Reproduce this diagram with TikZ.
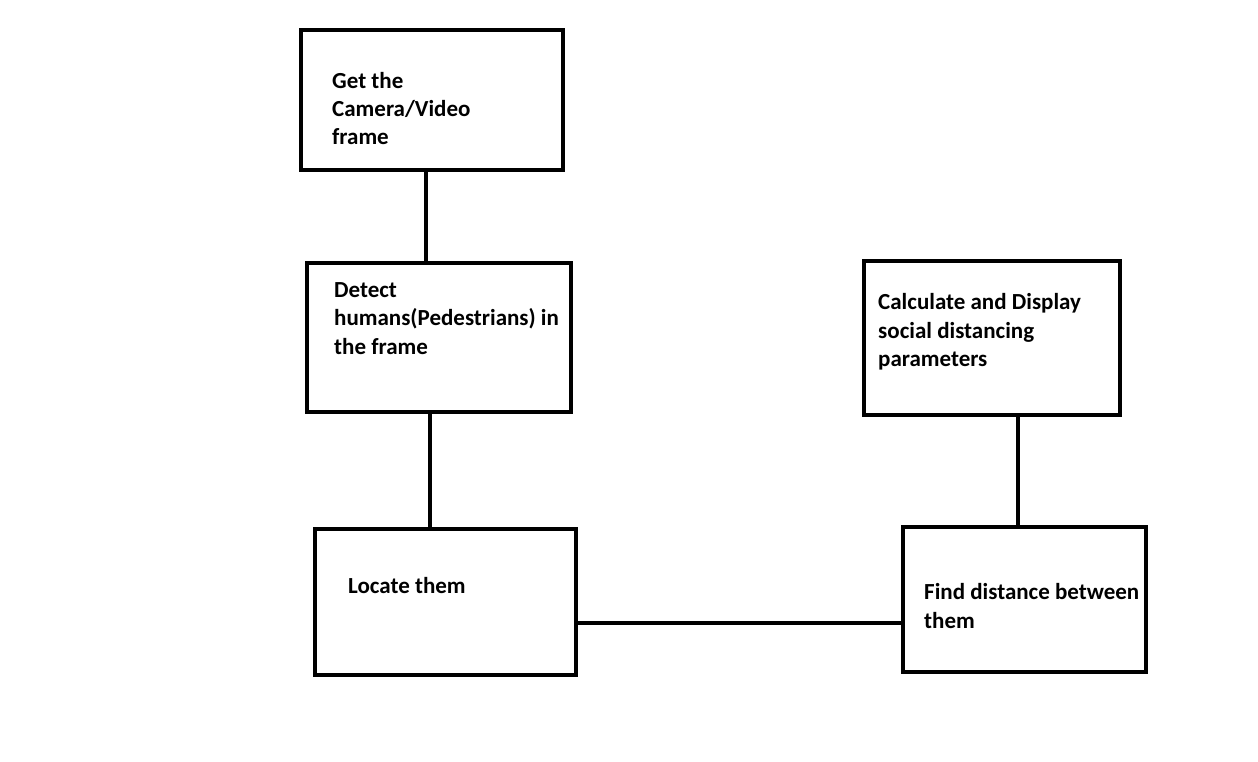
\documentclass[tikz,border=0pt]{standalone}
\usepackage{fontspec}
\setmainfont{Carlito}
\begin{document}
\begin{tikzpicture}[x=1pt,y=-1pt,
  box/.style={draw=black,line width=4pt,rectangle,inner sep=0pt},
  lbl/.style={anchor=base west,inner sep=0pt,align=left,font=\fontsize{23}{28.4}\selectfont\bfseries},
  link/.style={draw=black,line width=4pt}]
\useasboundingbox[fill=white] (0,0) rectangle (1258,762);
\node[box,minimum width=262pt,minimum height=140pt] (b1) at (432,100) {};
\node[box,minimum width=264pt,minimum height=149pt] (b2) at (439,337.5) {};
\node[box,minimum width=261pt,minimum height=146pt] (b3) at (445.5,602) {};
\node[box,minimum width=256pt,minimum height=154pt] (b4) at (991.5,338) {};
\node[box,minimum width=243pt,minimum height=145pt] (b5) at (1024,599) {};
% base anchor of a multi-line node = baseline of its last line
\node[lbl] (t1) at (332,145) {Get the\\Camera/Video\\frame};
\node[lbl] (t2) at (334,354) {Detect\\humans(Pedestrians) in\\the frame};
\node[lbl] (t3) at (348,593) {Locate them};
\node[lbl] (t4) at (878,366.5) {Calculate and Display\\social distancing\\parameters};
\node[lbl] (t5) at (924,628.3) {Find distance between\\them};
\draw[link] (b1.south -| 426,0) -- (b2.north -| 426,0);
\draw[link] (b2.south -| 430,0) -- (b3.north -| 430,0);
\draw[link] (b3.east |- 0,623) -- (b5.west |- 0,623);
\draw[link] (b4.south -| 1017.5,0) -- (b5.north -| 1017.5,0);
\end{tikzpicture}
\end{document}
